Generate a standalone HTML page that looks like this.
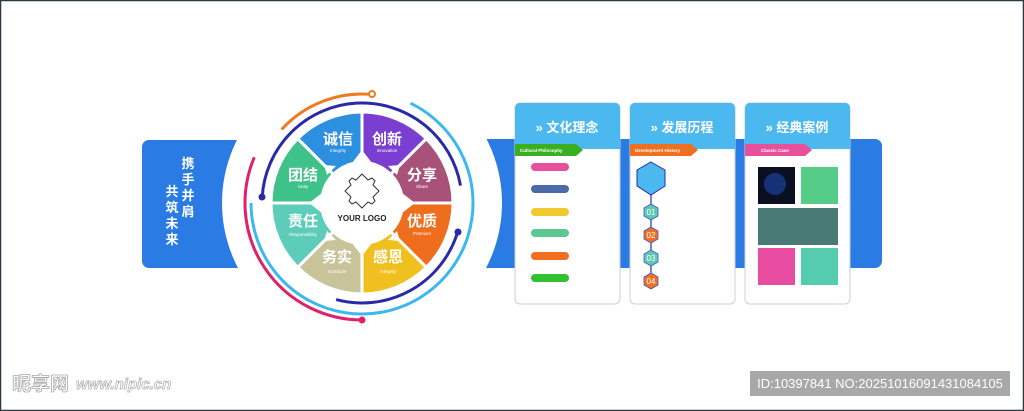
<!DOCTYPE html>
<html><head><meta charset="utf-8"><style>
html,body{margin:0;padding:0;background:#fff}
svg{display:block}
text{font-family:"Liberation Sans","Noto Sans CJK SC",sans-serif}
</style></head><body>
<svg width="1024" height="411" viewBox="0 0 1024 411" xmlns="http://www.w3.org/2000/svg">
<rect x="0.5" y="0.5" width="1023" height="410" fill="#fff" stroke="#2a3a44" stroke-width="1.5"/>
<rect x="142" y="140" width="110" height="128" rx="7" fill="#2a7be4"/>
<rect x="470" y="139" width="412" height="129" rx="7" fill="#2a7be4"/>
<circle cx="362" cy="203" r="140" fill="#fff"/>
<g font-weight="bold" fill="#fff" font-size="13" text-anchor="middle">
<text x="188" y="168">携</text><text x="188" y="184">手</text><text x="188" y="200">并</text><text x="188" y="216">肩</text>
<text x="172" y="196">共</text><text x="172" y="212">筑</text><text x="172" y="228">未</text><text x="172" y="244">来</text>
</g>
<g fill="none" stroke-width="3">
<path d="M281.6,129.5 A109,109 0 0 1 371.9,94.4" stroke="#f07a20"/>
<path d="M262.2,197.1 A100,100 0 0 1 460.5,185.6" stroke="#2a2aa8"/>
<path d="M457.6,232.2 A100,100 0 0 1 336.1,299.6" stroke="#2a2aa8"/>
<path d="M410.6,103.2 A111,111 0 1 1 251,203" stroke="#3cb8ee"/>
<path d="M254.3,157.3 A117,117 0 0 0 362,320" stroke="#e0206a"/>
</g>
<circle cx="372" cy="94" r="3" fill="#fff" stroke="#f07a20" stroke-width="2"/>
<circle cx="262" cy="197" r="3.5" fill="#2a2aa8"/>
<circle cx="458" cy="232" r="3.5" fill="#2a2aa8"/>
<circle cx="362" cy="320" r="3.5" fill="#e0206a"/>
<g stroke="#fff" stroke-width="3">
<path d="M362,203 L297.7,138.7 A91,91 0 0 1 362,112 Z" fill="#2d8fe0"/>
<path d="M362,203 L362,112 A91,91 0 0 1 426.3,138.7 Z" fill="#7a3fd0"/>
<path d="M362,203 L426.3,138.7 A91,91 0 0 1 453,203 Z" fill="#a8527a"/>
<path d="M362,203 L453,203 A91,91 0 0 1 426.3,267.3 Z" fill="#ee6e1e"/>
<path d="M362,203 L426.3,267.3 A91,91 0 0 1 362,294 Z" fill="#f0c020"/>
<path d="M362,203 L362,294 A91,91 0 0 1 297.7,267.3 Z" fill="#c9c39a"/>
<path d="M362,203 L297.7,267.3 A91,91 0 0 1 271,203 Z" fill="#5dcdb9"/>
<path d="M362,203 L271,203 A91,91 0 0 1 297.7,138.7 Z" fill="#3ec28a"/>
</g>
<circle cx="362" cy="203" r="42" fill="#fff"/>
<g fill="#fff">
<polygon points="352,163 362,150 372,163"/><polygon points="352,243 362,256 372,243"/>
<polygon points="322,193 309,203 322,213"/><polygon points="402,193 415,203 402,213"/>
<polygon points="327,175 324,165 336,166"/><polygon points="397,175 400,165 388,166"/>
<polygon points="327,231 324,241 336,240"/><polygon points="397,231 400,241 388,240"/>
</g>
<path d="M362,174 l6,6 l4,-2 l3,3 l-2,4 l6,6 l-6,6 l2,4 l-3,3 l-4,-2 l-6,6 l-6,-6 l-4,2 l-3,-3 l2,-4 l-6,-6 l6,-6 l-2,-4 l3,-3 l4,2 Z" fill="none" stroke="#333" stroke-width="1"/>
<text x="362" y="221" font-size="8" font-weight="bold" text-anchor="middle" fill="#222">YOUR LOGO</text>
<g fill="#fff" text-anchor="middle">
<g font-size="15" font-weight="bold">
<text x="338" y="144">诚信</text><text x="387" y="144">创新</text>
<text x="422" y="180">分享</text><text x="422" y="226">优质</text>
<text x="388" y="262">感恩</text><text x="337" y="262">务实</text>
<text x="303" y="226">责任</text><text x="303" y="180">团结</text>
</g>
<g font-size="4.5">
<text x="338" y="152">Integrity</text><text x="387" y="152">Innovation</text>
<text x="422" y="188">Share</text><text x="422" y="235">Premium</text>
<text x="388" y="273">Integrity</text><text x="337" y="273">Gratitude</text>
<text x="303" y="236">Responsibility</text><text x="303" y="188">Unity</text>
</g></g>
<g stroke="#c8d0d8" stroke-width="1">
<rect x="515" y="103" width="105" height="201" rx="5" fill="#fff"/>
<rect x="630" y="103" width="105" height="201" rx="5" fill="#fff"/>
<rect x="745" y="103" width="105" height="201" rx="5" fill="#fff"/>
</g>
<path d="M515,108 a5,5 0 0 1 5,-5 h95 a5,5 0 0 1 5,5 v41 h-105 Z" fill="#4cb8f0"/>
<path d="M630,108 a5,5 0 0 1 5,-5 h95 a5,5 0 0 1 5,5 v41 h-105 Z" fill="#4cb8f0"/>
<path d="M745,108 a5,5 0 0 1 5,-5 h95 a5,5 0 0 1 5,5 v41 h-105 Z" fill="#4cb8f0"/>
<g fill="#fff" font-size="13" font-weight="bold" text-anchor="middle">
<text x="567" y="132">»  文化理念</text>
<text x="682" y="132">»  发展历程</text>
<text x="797" y="132">»  经典案例</text>
</g>
<polygon points="515,144 576,144 583,150 576,156 515,156" fill="#3ab020"/>
<polygon points="630,144 691,144 698,150 691,156 630,156" fill="#f07020"/>
<polygon points="745,144 805,144 812,150 805,156 745,156" fill="#e8509c"/>
<g fill="#fff" font-size="4.5" font-weight="bold">
<text x="520" y="152">Cultural Philosophy</text>
<text x="635" y="152">Development History</text>
<text x="761" y="152">Classic Case</text>
</g>
<g stroke-width="8" stroke-linecap="round">
<line x1="535" y1="167" x2="565" y2="167" stroke="#e8509c"/>
<line x1="535" y1="189" x2="565" y2="189" stroke="#4a6aa8"/>
<line x1="535" y1="212" x2="565" y2="212" stroke="#f0c830"/>
<line x1="535" y1="233" x2="565" y2="233" stroke="#5cc890"/>
<line x1="535" y1="256" x2="565" y2="256" stroke="#f07020"/>
<line x1="535" y1="278" x2="565" y2="278" stroke="#30c030"/>
</g>
<line x1="651" y1="190" x2="651" y2="285" stroke="#2a2aa8" stroke-width="1.2"/>
<polygon points="651,162 665,170 665,186 651,195 637,186 637,170" fill="#4cb8f0" stroke="#2a2aa8" stroke-width="1"/>
<g stroke="#3a5ad0" stroke-width="0.8">
<polygon points="651,204 658,208 658,216 651,220 644,216 644,208" fill="#5ec8b0"/>
<polygon points="651,227 658,231 658,239 651,243 644,239 644,231" fill="#f07020"/>
<polygon points="651,250 658,254 658,262 651,266 644,262 644,254" fill="#5ec8b0"/>
<polygon points="651,273 658,277 658,285 651,289 644,285 644,277" fill="#f07020"/>
</g>
<g fill="#fff" font-size="8" text-anchor="middle">
<text x="651" y="215">01</text><text x="651" y="238">02</text><text x="651" y="261">03</text><text x="651" y="284">04</text>
</g>
<rect x="758" y="167" width="37" height="37" fill="#0a0f22"/>
<circle cx="775" cy="184" r="11" fill="#1a3a90" opacity="0.8"/>
<rect x="801" y="167" width="37" height="37" fill="#55cc88"/>
<rect x="758" y="208" width="80" height="37" fill="#4a7a75"/>
<rect x="758" y="248" width="37" height="37" fill="#e84ca0"/>
<rect x="801" y="248" width="37" height="37" fill="#55ccb0"/>
<text x="12" y="390" font-size="19" font-weight="bold" fill="#fff" stroke="#aaa" stroke-width="0.8">昵享网</text>
<text x="76" y="389" font-size="15" font-style="italic" font-weight="bold" fill="#fff" stroke="#aaa" stroke-width="0.7">www.nipic.cn</text>
<rect x="750" y="371" width="260" height="25" fill="#a8a8a8"/>
<text x="880" y="388" font-size="13" fill="#fff" text-anchor="middle">ID:10397841 NO:20251016091431084105</text>
</svg>
</body></html>
